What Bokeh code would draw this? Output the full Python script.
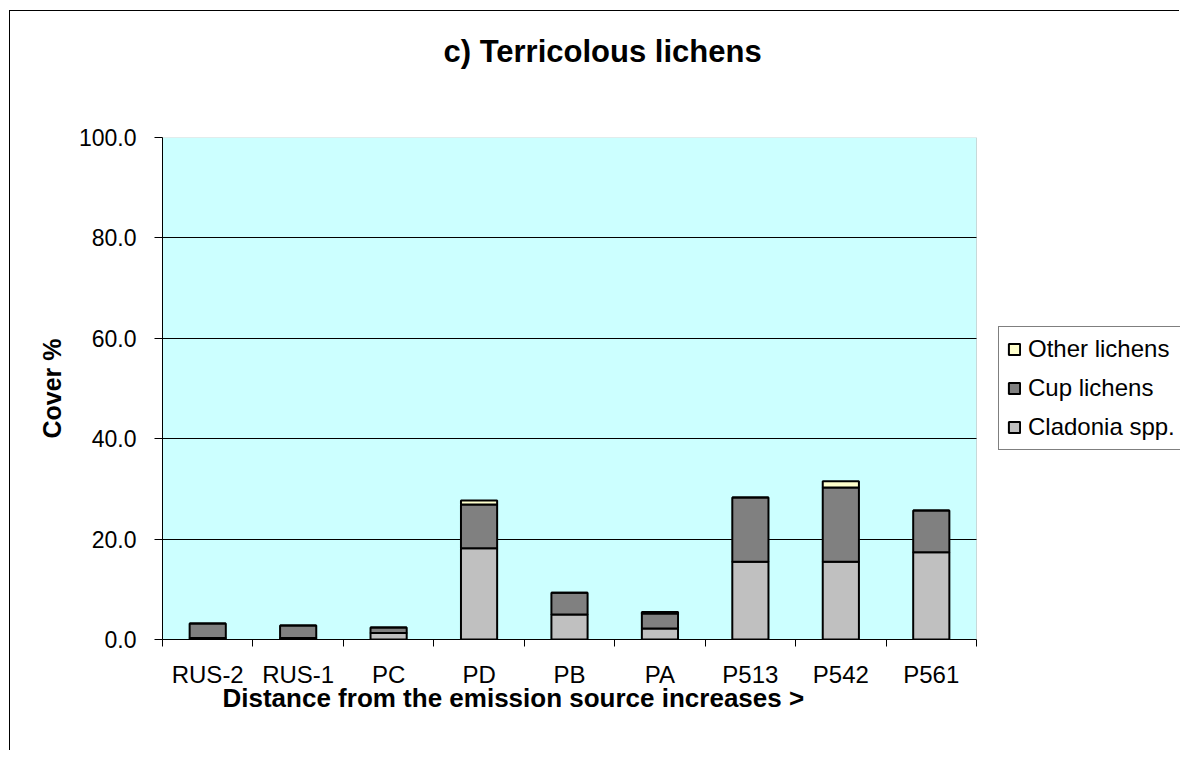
from bokeh.plotting import figure
from bokeh.models import (Range1d, LinearAxis, FixedTicker, NumeralTickFormatter, Legend,
                          LegendItem, Title, ColumnDataSource, BoxAnnotation, Grid)
from bokeh.embed import file_html
from bokeh.resources import INLINE

# ---- data ----
sites = ["RUS-2", "RUS-1", "PC", "PD", "PB", "PA", "P513", "P542", "P561"]
cladonia = [0.3, 0.3, 1.3, 18.2, 5.0, 2.2, 15.5, 15.5, 17.4]
cup = [2.9, 2.5, 1.1, 8.7, 4.3, 3.0, 12.8, 14.8, 8.3]
other = [0.0, 0.0, 0.0, 0.8, 0.0, 0.3, 0.0, 1.2, 0.0]
series_keys = ["cladonia", "cup", "other"]
series_labels = ["Cladonia spp.", "Cup lichens", "Other lichens"]
series_colors = ["#C0C0C0", "#808080", "#FFFFCC"]
y_ticks = [0, 20, 40, 60, 80, 100]
title_text = "c) Terricolous lichens"
x_title = "Distance from the emission source increases >"
y_title = "Cover %"

FONT = "Liberation Sans"
n = len(sites)
centers = [i + 0.5 for i in range(n)]        # category slots on the x scale
bounds = list(range(n + 1))                  # category boundaries (tick marks)

# frame spans plot area (814 px) plus the legend zone to the right (204 px)
PLOT_W, FRAME_W = 814, 1018
x_end = n * FRAME_W / PLOT_W

source = ColumnDataSource(dict(x=centers, sites=sites, cladonia=cladonia, cup=cup, other=other))

p = figure(x_range=Range1d(0, x_end), y_range=Range1d(0, 100),
           width=1170, height=740, output_backend="svg", toolbar_location=None,
           x_axis_location=None, title=None,
           min_border_left=152, min_border_top=126, min_border_right=0, min_border_bottom=112)
p.styles = {"border-left": "1px solid black", "border-top": "1px solid black",
            "margin-left": "9px", "margin-top": "10px"}
p.background_fill_color = "white"
p.border_fill_color = "white"
p.outline_line_color = None

# plot area (cyan) limited to the categories
p.add_layout(BoxAnnotation(left=0, right=n, bottom=y_ticks[0], top=y_ticks[-1],
                           fill_color="#CCFFFF", fill_alpha=1, line_color="#808080",
                           line_width=1, level="image"))

# horizontal grid lines limited to the plot area
p.xgrid.visible = False
if "cross_bounds" in Grid.properties():
    p.ygrid.ticker = FixedTicker(ticks=y_ticks)
    p.ygrid.cross_bounds = (0, n)
    p.ygrid.grid_line_color = "black"
    p.ygrid.grid_line_width = 1
else:
    p.ygrid.visible = False
    p.segment(x0=[0] * (len(y_ticks) - 1), x1=[n] * (len(y_ticks) - 1),
              y0=y_ticks[1:], y1=y_ticks[1:], line_color="black", line_width=1)

renderers = p.vbar_stack(series_keys, x="x", width=0.4, source=source,
                         fill_color=series_colors, line_color="black", line_width=2)

# y axis
ya = p.yaxis[0]
ya.ticker = FixedTicker(ticks=y_ticks)
ya.formatter = NumeralTickFormatter(format="0.0")
ya.major_label_text_font = FONT
ya.major_label_text_font_size = "23px"
ya.major_label_text_color = "black"
ya.major_label_standoff = 18
ya.major_tick_out = 8
ya.major_tick_in = 0
ya.minor_tick_line_color = None
ya.axis_line_color = "black"
ya.major_tick_line_color = "black"
ya.axis_label = y_title
ya.axis_label_text_font = FONT
ya.axis_label_text_font_size = "25px"
ya.axis_label_text_font_style = "bold"
ya.axis_label_text_color = "black"
ya.axis_label_standoff = 10

# x axis: labels at category centres, tick marks at category boundaries
xa = LinearAxis(ticker=FixedTicker(ticks=centers, minor_ticks=bounds),
                bounds=(0, n),
                major_label_overrides={c: s for c, s in zip(centers, sites)},
                major_tick_out=7, major_tick_in=0, major_tick_line_color=None,
                minor_tick_out=7, minor_tick_in=0, minor_tick_line_color="black",
                axis_line_color="black",
                major_label_text_font=FONT, major_label_text_font_size="24px",
                major_label_text_color="black", major_label_standoff=14)
p.add_layout(xa, "below")

# x title (below the category labels)
p.add_layout(Title(text=x_title, align="left", offset=60, vertical_align="top", standoff=-16,
                   text_font=FONT, text_font_size="26px", text_font_style="bold",
                   text_color="black"), "below")

# chart title (spacer keeps it away from the plot area)
p.add_layout(Title(text=" ", text_font_size="1px", standoff=66), "above")
p.add_layout(Title(text=title_text, align="left", offset=281, vertical_align="bottom", standoff=0,
                   text_font=FONT, text_font_size="31px", text_font_style="bold",
                   text_color="black"), "above")

# legend
items = [LegendItem(label=lab, renderers=[r]) for lab, r in zip(series_labels, renderers)]
items = items[::-1]
legend = Legend(items=items, location=(836, 189), label_text_font=FONT,
                label_text_font_size="24px", label_text_color="black",
                glyph_width=14, glyph_height=14, label_height=24, label_standoff=7,
                spacing=11, padding=8, margin=0,
                border_line_color="black", border_line_width=1,
                background_fill_color="white", background_fill_alpha=1)
p.add_layout(legend, "center")

open("out.html", "w").write(file_html(p, INLINE))
